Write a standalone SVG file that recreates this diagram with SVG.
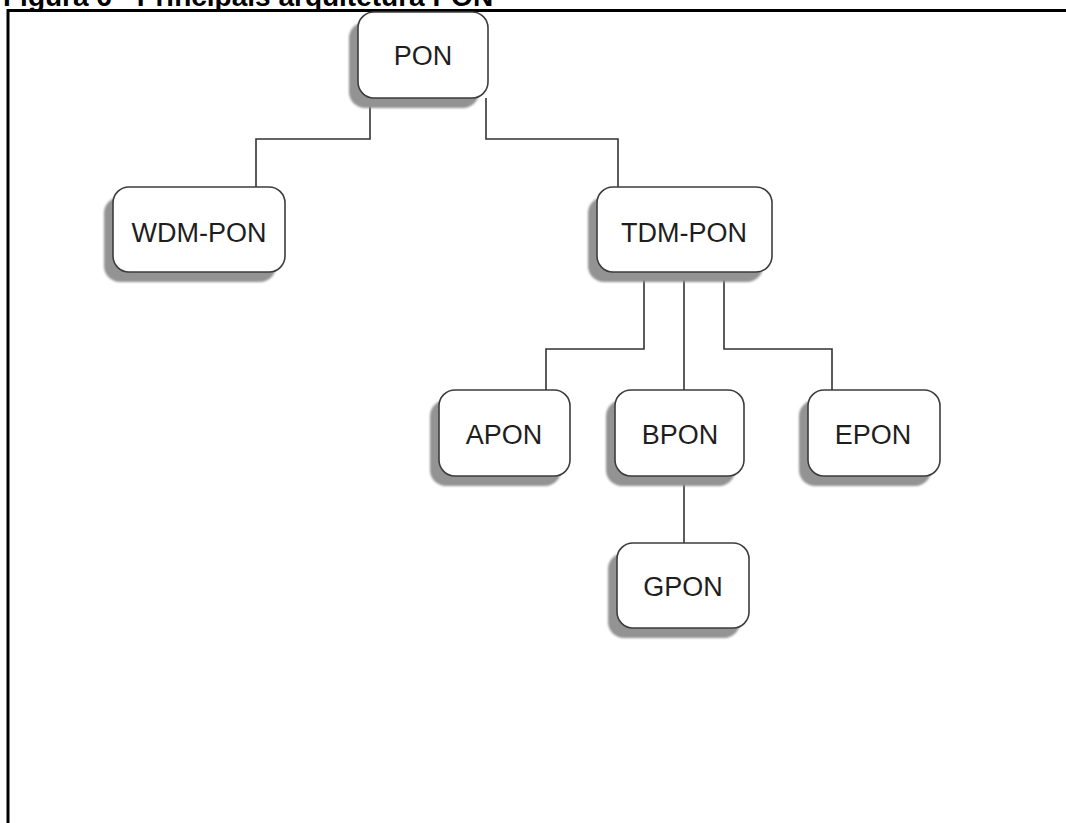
<svg xmlns="http://www.w3.org/2000/svg" width="1066" height="823" viewBox="0 0 1066 823">
  <defs>
    <filter id="soft" x="-10%" y="-10%" width="120%" height="120%">
      <feGaussianBlur stdDeviation="1.2"/>
    </filter>
  </defs>
  <style>
    .shadow { fill: #939393; filter: url(#soft); }
    .box { fill: #ffffff; stroke: #3c3c3c; stroke-width: 1.6; }
    .label { font-family: "Liberation Sans", Arial, sans-serif; font-size: 27px; fill: #1e1e1e; text-anchor: middle; }
    .wire { fill: none; stroke: #333333; stroke-width: 1.6; }
    .title { font-family: "Liberation Sans", Arial, sans-serif; font-size: 28px; font-weight: bold; fill: #000000; }
  </style>

  <rect width="1066" height="823" fill="#ffffff"/>

  <!-- caption, cropped at the top edge -->
  <text class="title" x="3" y="6">Figura 6 - Principais arquitetura PON</text>

  <!-- figure frame -->
  <path d="M8,823 V10.5 H1066" fill="none" stroke="#000000" stroke-width="3"/>

  <!-- connectors -->
  <g id="connectors">
    <path class="wire" d="M370,98 V139 H256 V187"/>
    <path class="wire" d="M486,98 V139 H618 V187"/>
    <path class="wire" d="M644,272 V349 H546 V390"/>
    <path class="wire" d="M684,272 V390"/>
    <path class="wire" d="M724,272 V349 H832 V390"/>
    <path class="wire" d="M684,476 V543"/>
  </g>

  <g id="node-pon">
    <rect class="shadow" x="349" y="22" width="130" height="86" rx="16"/>
    <rect class="box" x="358" y="12" width="130" height="86" rx="16"/>
    <text class="label" x="423" y="65">PON</text>
  </g>

  <g id="node-wdm-pon">
    <rect class="shadow" x="104" y="197" width="172" height="85" rx="16"/>
    <rect class="box" x="113" y="187" width="172" height="85" rx="16"/>
    <text class="label" x="199" y="242">WDM-PON</text>
  </g>

  <g id="node-tdm-pon">
    <rect class="shadow" x="588" y="197" width="175" height="85" rx="16"/>
    <rect class="box" x="597" y="187" width="175" height="85" rx="16"/>
    <text class="label" x="684" y="242">TDM-PON</text>
  </g>

  <g id="node-apon">
    <rect class="shadow" x="430" y="400" width="131" height="86" rx="16"/>
    <rect class="box" x="439" y="390" width="131" height="86" rx="16"/>
    <text class="label" x="504" y="444">APON</text>
  </g>

  <g id="node-bpon">
    <rect class="shadow" x="606" y="400" width="129" height="86" rx="16"/>
    <rect class="box" x="615" y="390" width="129" height="86" rx="16"/>
    <text class="label" x="680" y="444">BPON</text>
  </g>

  <g id="node-epon">
    <rect class="shadow" x="799" y="400" width="132" height="86" rx="16"/>
    <rect class="box" x="808" y="390" width="132" height="86" rx="16"/>
    <text class="label" x="873" y="444">EPON</text>
  </g>

  <g id="node-gpon">
    <rect class="shadow" x="608" y="553" width="132" height="85" rx="16"/>
    <rect class="box" x="617" y="543" width="132" height="85" rx="16"/>
    <text class="label" x="683" y="596">GPON</text>
  </g>
</svg>
